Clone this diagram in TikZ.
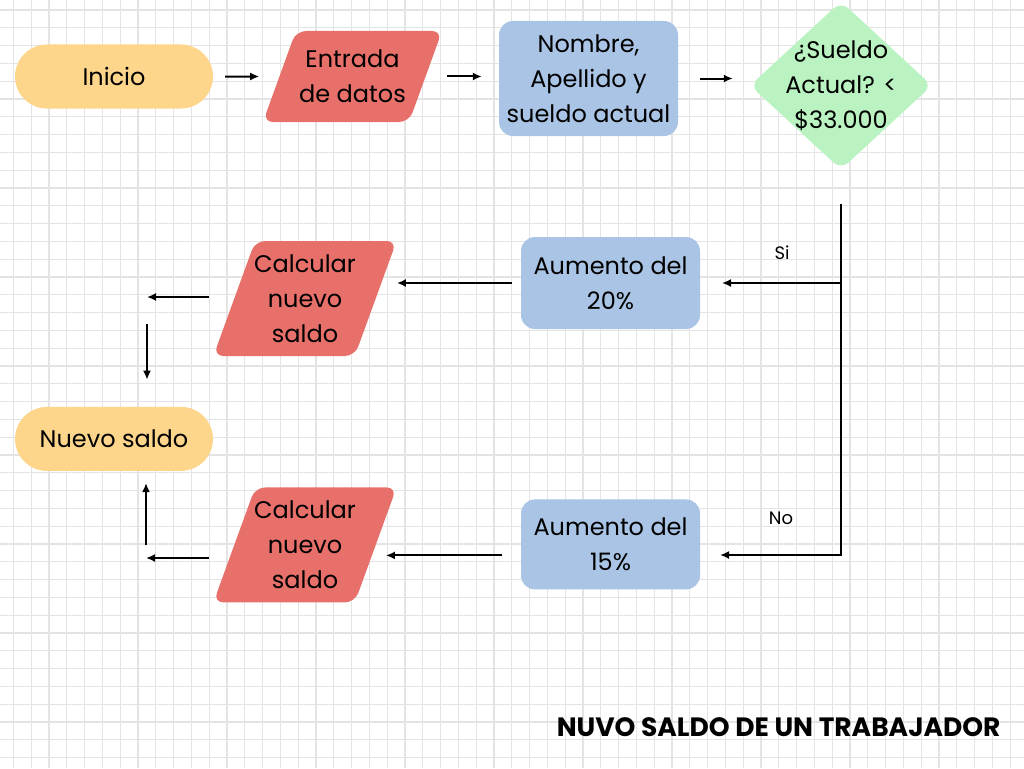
\documentclass[tikz,border=0pt]{standalone}
\usepackage{fontspec}
\setmainfont{Poppins}
\usetikzlibrary{positioning,shapes.geometric,arrows.meta}
\definecolor{naranja}{HTML}{FDD58B}
\definecolor{rojo}{HTML}{E8706A}
\definecolor{azul}{HTML}{A9C4E4}
\definecolor{verde}{HTML}{BAF3C1}
\definecolor{cuadro}{HTML}{E4E4E4}

\begin{document}
\begin{tikzpicture}[x=1pt, y=-1pt,
  txt/.style = {font=\fontsize{24}{35}\selectfont, align=center},
  terminal/.style = {txt, fill=naranja, rounded corners=32pt, minimum width=198pt, minimum height=64pt, inner sep=0pt},
  inout/.style = {txt, fill=rojo, trapezium, trapezium left angle=70, trapezium right angle=110, rounded corners=10pt, inner xsep=-30pt, inner ysep=-20pt},
  proceso/.style = {txt, fill=azul, rounded corners=14pt, minimum width=179pt, inner sep=0pt},
  decision/.style = {txt, fill=verde, diamond, rounded corners=10pt, minimum width=182pt, minimum height=168pt, inner sep=-40pt},
  flecha/.style = {-{Latex[length=9pt,width=8pt]}, line width=2pt},
  lbl/.style = {font=\fontsize{18}{20}\selectfont}]
  \useasboundingbox (0,0) rectangle (1024,768);
  \fill[white] (0,0) rectangle (1024,768);
  % cuadricula
  \foreach \i in {0,...,57} \draw[cuadro, line width=1.2pt] (13.3+17.8*\i,0) -- (13.3+17.8*\i,768);
  \foreach \j in {0,...,42} \draw[cuadro, line width=1.2pt] (0,10+17.8*\j) -- (1024,10+17.8*\j);

  % fila de arriba
  \node[terminal](inicio) at (114,76.5){Inicio};
  \node[inout, inner xsep=1pt, inner ysep=17pt, minimum height=91pt](entrada) at (352.5,76.5){Entrada\\de datos};
  \node[proceso, minimum height=115pt](datos) at (588.5,78.5){Nombre,\\Apellido y\\sueldo actual};
  \node[decision](cond) at (841,85.5){¿Sueldo\\Actual? <\\\$33.000};
  \draw[flecha, shorten <=12pt, shorten >=20pt] (inicio) -- (entrada);
  \draw[flecha, shorten <=21pt, shorten >=17pt] (entrada.east) -- (entrada.east -| datos.west);
  \draw[flecha, shorten <=22pt, shorten >=17pt] (datos.east) -- (datos.east -| cond.west);

  % ramas
  \node[proceso, minimum height=92pt](aum20) at (610.5,283){Aumento del\\20\%};
  \node[proceso, minimum height=90pt](aum15)[below=170pt of aum20]{Aumento del\\15\%};
  \coordinate (si) at (722,283);
  \coordinate (no) at (720,555);
  \draw[flecha, shorten <=34pt] (cond.south) |- (no);
  \draw[flecha] (cond.south |- si) -- (si);
  \node[lbl](sitxt) at (782,253){Si};
  \node[lbl](notxt) at (781,518){No};

  \node[inout, minimum width=176pt, minimum height=115pt](calc1) at (305,298.5){Calcular\\nuevo\\saldo};
  \node[inout, minimum width=176pt, minimum height=115pt](calc2)[below=131pt of calc1]{Calcular\\nuevo\\saldo};
  \node[terminal](nuevo)[below=298pt of inicio]{Nuevo saldo};
  \draw[flecha, shorten <=9pt, shorten >=21pt] (aum20.west) -- (aum20.west -| calc1.east);
  \draw[flecha, shorten <=19pt, shorten >=10pt] ([yshift=-11pt]aum15.west) -- ([yshift=-11pt]aum15.west -| calc2.east);

  \coordinate (c1) at (147,297);
  \coordinate (c2) at (146,558);
  \draw[flecha, shorten <=25pt] (calc1.west |- c1) -- (c1);
  \draw[flecha, shorten <=27pt, shorten >=27pt] (c1) -- (c1 |- nuevo.north);
  \draw[flecha, shorten <=25pt] (calc2.west |- c2) -- (c2);
  \draw[flecha, shorten <=13pt, shorten >=12pt] (c2) -- (c2 |- nuevo.south);

  \node[anchor=east, font=\fontsize{26.5}{30}\selectfont\bfseries](titulo) at (1004,727){NUVO SALDO DE UN TRABAJADOR};
\end{tikzpicture}
\end{document}
